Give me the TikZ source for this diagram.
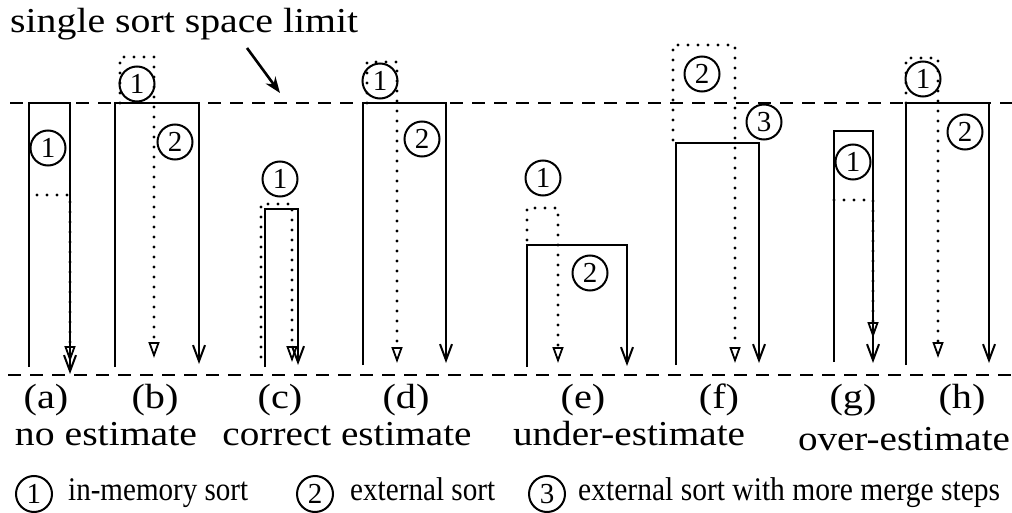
\documentclass[tikz,border=0pt]{standalone}
\usepackage{fontspec}
\setmainfont{Liberation Serif}
\usetikzlibrary{arrows.meta}
\newcommand{\fitw}[2]{\resizebox{#1}{\height}{#2}}
\tikzset{
  limline/.style={line width=2.2pt, dash pattern=on 13pt off 9pt},
  solidln/.style={line width=2.4pt, line join=miter, -{Straight Barb[length=16pt,width=12pt,line width=2pt]}},
  dotln/.style={line width=3.3pt, line cap=round, dash pattern=on 0pt off 10pt, -{Triangle[open,length=16pt,width=11pt,line width=1.8pt]}},
  cnum/.style={circle, draw, line width=2pt, minimum size=35pt, inner sep=0pt, font=\fontsize{29}{29}\selectfont},
  lab/.style={anchor=base, inner sep=0pt, font=\fontsize{35}{40}\selectfont},
  legtxt/.style={anchor=base west, inner sep=0pt, font=\fontsize{33}{38}\selectfont},
}
\begin{document}
\begin{tikzpicture}[x=1pt,y=-1pt]
\useasboundingbox (0,0) rectangle (1012,513);
% title and pointer
\node[anchor=base west, inner sep=0pt, font=\fontsize{35}{40}\selectfont] (title) at (10,33) {\fitw{348pt}{single sort space limit}};
\coordinate (limtail) at (247,48);
\coordinate (limtip) at (280,93);
\draw[line width=2.6pt, -{Stealth[length=16pt,width=12pt]}] (limtail) -- (limtip);
% limit lines
\coordinate (topL) at (10,103); \coordinate (topR) at (1012,103);
\coordinate (botL) at (8,375); \coordinate (botR) at (1012,375);
\draw[limline] (topL) -- (topR);
\draw[limline] (botL) -- (botR);
% (a)
\draw[solidln] (29,367) -- (29,103) -- (70,103) -- (70,374);
\draw[dotln] (37,195) -- (70,195) -- (70,362);
\node[cnum] (a1) at (48,148) {1};
% (b)
\draw[solidln] (115,367) -- (115,103) -- (199,103) -- (199,364);
\draw[dotln] (120,103) -- (120,57) -- (154,57) -- (154,358);
\node[cnum] (b1) at (137,84) {1};
\node[cnum] (b2) at (175,142) {2};
% (c)
\draw[solidln] (265,367) -- (265,209) -- (298,209) -- (298,365);
\draw[dotln] (261,357) -- (261,204) -- (292,204) -- (292,362);
\node[cnum] (c1) at (280,179) {1};
% (d)
\draw[solidln] (363,365) -- (363,103) -- (446,103) -- (446,363);
\draw[dotln] (367,103) -- (367,62) -- (397,62) -- (397,363);
\node[cnum] (d1) at (380,81) {1};
\node[cnum] (d2) at (422,139) {2};
% (e)
\draw[solidln] (527,367) -- (527,245) -- (627,245) -- (627,366);
\draw[dotln] (527,240) -- (527,208) -- (558,208) -- (558,363);
\node[cnum] (e1) at (543,178) {1};
\node[cnum] (e2) at (590,273) {2};
% (f)
\draw[solidln] (676,365) -- (676,143) -- (759,143) -- (759,363);
\draw[dotln] (673,140) -- (673,45) -- (735,45) -- (735,363);
\node[cnum] (f2) at (702,74) {2};
\node[cnum] (f3) at (764,122) {3};
% (g)
\draw[solidln] (834,362) -- (834,131) -- (873,131) -- (873,363);
\draw[dotln] (834,200) -- (873,200) -- (873,338);
\node[cnum] (g1) at (853,162) {1};
% (h)
\draw[solidln] (906,365) -- (906,103) -- (989,103) -- (989,363);
\draw[dotln] (906,103) -- (906,58) -- (938,58) -- (938,358);
\node[cnum] (h1) at (923,79) {1};
\node[cnum] (h2) at (965,132) {2};
% labels
\node[lab] (la) at (46,408) {\scalebox{1.15}[1]{(a)}};
\node[lab] (lb) at (155,408) {\scalebox{1.15}[1]{(b)}};
\node[lab] (lc) at (280,408) {\scalebox{1.15}[1]{(c)}};
\node[lab] (ld) at (406,408) {\scalebox{1.15}[1]{(d)}};
\node[lab] (le) at (583,408) {\scalebox{1.15}[1]{(e)}};
\node[lab] (lf) at (719,408) {\scalebox{1.15}[1]{(f)}};
\node[lab] (lg) at (853,408) {\scalebox{1.15}[1]{(g)}};
\node[lab] (lh) at (962,408) {\scalebox{1.15}[1]{(h)}};
\node[lab] (none) at (106,445) {\fitw{182pt}{no estimate}};
\node[lab] (corr) at (347,445) {\fitw{249pt}{correct estimate}};
\node[lab] (under) at (629,445) {\fitw{232pt}{under-estimate}};
\node[lab] (over) at (904,450) {\fitw{212pt}{over-estimate}};
% legend
\node[cnum, minimum size=36pt] (k1) at (34,494) {1};
\node[legtxt] (t1) at (68,500) {\fitw{180pt}{in-memory sort}};
\node[cnum, minimum size=36pt] (k2) at (315,494) {2};
\node[legtxt] (t2) at (350,500) {\fitw{145pt}{external sort}};
\node[cnum, minimum size=36pt] (k3) at (547,494) {3};
\node[legtxt] (t3) at (578,500) {\fitw{422pt}{external sort with more merge steps}};
\end{tikzpicture}
\end{document}
